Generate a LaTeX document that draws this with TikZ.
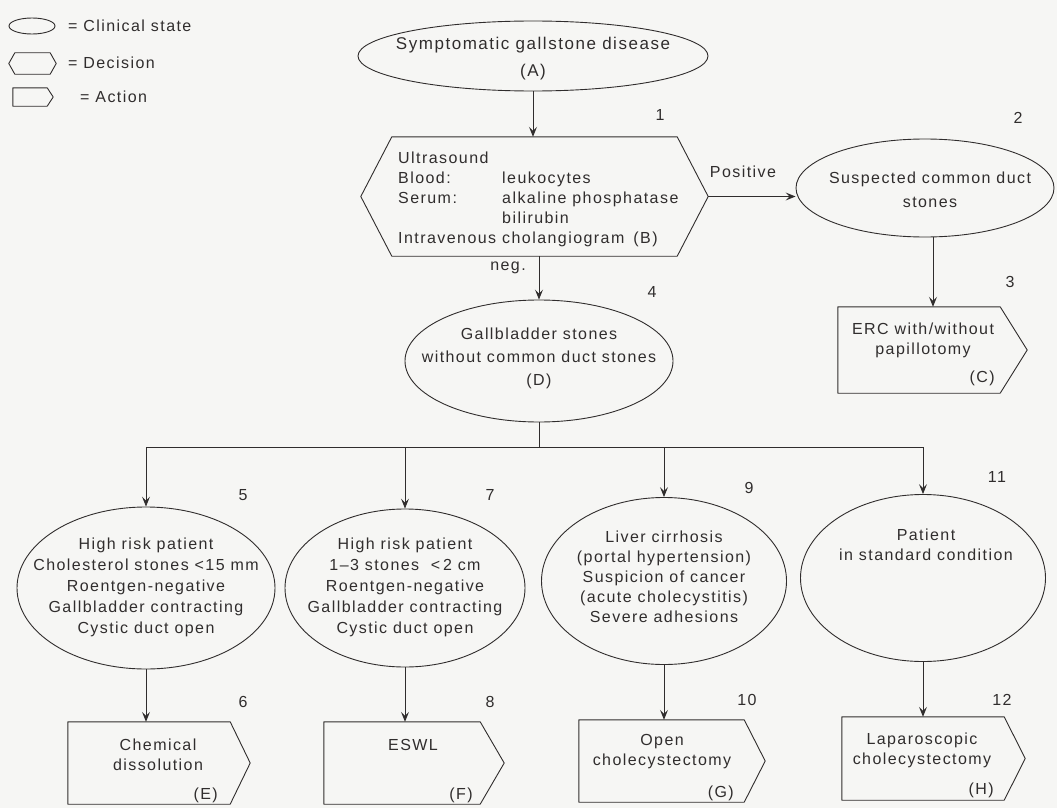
\documentclass[tikz,border=0pt]{standalone}
\usepackage{fontspec}
\setmainfont{Liberation Sans}[LetterSpace=9]
\usetikzlibrary{shapes.geometric,arrows.meta}
\definecolor{ink}{HTML}{302D2D}
\definecolor{paper}{HTML}{F6F6F4}
\newcommand\actoutline[2]{\draw[outline] (#1.north west) -- (#1.north east) -- ([xshift=#2]#1.east) -- (#1.south east) -- (#1.south west) -- cycle;}
\newcommand\hexoutline[2]{\draw[outline] (#1.north west) -- (#1.north east) -- ([xshift=#2]#1.east) -- (#1.south east) -- (#1.south west) -- ([xshift=-#2]#1.west) -- cycle;}
\begin{document}
\begin{tikzpicture}[x=1pt,y=-1pt,
  every node/.style={text=ink},
  txt/.style={font=\fontsize{16}{20}\selectfont, align=center, inner sep=0pt},
  ell/.style={draw=ink, line width=0.9pt, ellipse, inner sep=0pt},
  box/.style={inner sep=0pt, draw=none},
  num/.style={font=\fontsize{16}{18}\selectfont, inner sep=0pt},
  arr/.style={draw=ink, line width=0.9pt, -{Stealth[length=10pt,width=8pt,inset=4pt]}},
  ln/.style={draw=ink, line width=0.9pt},
  outline/.style={draw=ink, line width=0.9pt, line join=round},
]
\fill[paper] (0,0) rectangle (1057,808);
\useasboundingbox (0,0) rectangle (1057,808);

% legend
\node[ell, minimum width=46pt, minimum height=16pt] (lc) at (32,26) {};
\node[txt, anchor=west] (lct) at (68,26) {= Clinical state};
\node[box, minimum width=35pt, minimum height=21pt] (ld) at (32.5,63.5) {};
\hexoutline{ld}{6}
\node[txt, anchor=west] (ldt) at (68,63) {= Decision};
\node[box, minimum width=34pt, minimum height=18pt] (la) at (30,97) {};
\actoutline{la}{6}
\node[txt, anchor=west] (lat) at (80,97) {= Action};

% A
\node[ell, minimum width=350pt, minimum height=70pt] (A) at (533,56) {};
\node[txt, font=\fontsize{17}{27}\selectfont] (At) at (533,59) {Symptomatic gallstone disease\\(A)};

% B
\node[box, minimum width=285pt, minimum height=119pt] (B) at (534.5,196.5) {};
\hexoutline{B}{31}
\node[txt, align=left, anchor=west] (Bt) at (398,199) {Ultrasound\\
\makebox[104pt][l]{Blood:}leukocytes\\
\makebox[104pt][l]{Serum:}alkaline phosphatase\\
\makebox[104pt][l]{}bilirubin\\
\makebox[104pt][l]{Intravenous}cholangiogram\hspace{9pt}(B)};
\coordinate (Btip) at ([xshift=31pt]B.east);

% 2
\node[ell, minimum width=258pt, minimum height=98pt] (S) at (925,188) {};
\node[txt, font=\fontsize{16}{24}\selectfont] (St) at (930,190) {Suspected common duct\\stones};
\node[txt] (pos) at (743,172) {Positive};

% C
\node[box, minimum width=162pt, minimum height=86pt] (C) at (919,350) {};
\actoutline{C}{27}
\node[txt] (Ct) at (923,340) {ERC with/without\\papillotomy};
\node[txt, anchor=east] (Cl) at (995,378) {(C)};

% D
\node[ell, minimum width=268pt, minimum height=122pt] (D) at (539,361) {};
\node[txt, font=\fontsize{16}{23}\selectfont] (Dt) at (539,358) {Gallbladder stones\\without common duct stones\\(D)};
\node[txt] (neg) at (508,268) {neg.};

% row of states
\node[ell, minimum width=258pt, minimum height=162pt] (E5) at (146,588) {};
\node[txt, font=\fontsize{16}{21}\selectfont] (E5t) at (146,587) {High risk patient\\Cholesterol stones <15 mm\\Roentgen-negative\\Gallbladder contracting\\Cystic duct open};
\node[ell, minimum width=240pt, minimum height=158pt] (E7) at (405,588) {};
\node[txt, font=\fontsize{16}{21}\selectfont] (E7t) at (405,587) {High risk patient\\1--3 stones \ <\,2 cm\\Roentgen-negative\\Gallbladder contracting\\Cystic duct open};
\node[ell, minimum width=245pt, minimum height=167pt] (E9) at (664,581) {};
\node[txt, font=\fontsize{16}{20}\selectfont] (E9t) at (664,577) {Liver cirrhosis\\(portal hypertension)\\Suspicion of cancer\\(acute cholecystitis)\\Severe adhesions};
\node[ell, minimum width=245pt, minimum height=167pt] (E11) at (923,578) {};
\node[txt] (E11t) at (926,545) {Patient\\in standard condition};

% actions
\node[box, minimum width=162pt, minimum height=82pt] (AE) at (149,763) {};
\actoutline{AE}{20}
\node[txt] (AEt) at (158,755) {Chemical\\dissolution};
\node[txt, anchor=east] (AEl) at (218,795) {(E)};

\node[box, minimum width=156pt, minimum height=82pt] (AF) at (402,763) {};
\actoutline{AF}{24}
\node[txt] (AFt) at (413,745) {ESWL};
\node[txt, anchor=east] (AFl) at (473,795) {(F)};

\node[box, minimum width=165pt, minimum height=82pt] (AG) at (661.5,761) {};
\actoutline{AG}{21}
\node[txt] (AGt) at (662,752) {Open\\cholecystectomy};
\node[txt, anchor=east] (AGl) at (734,793) {(G)};

\node[box, minimum width=162pt, minimum height=83pt] (AH) at (923,758.5) {};
\actoutline{AH}{21}
\node[txt] (AHt) at (922,750) {Laparoscopic\\cholecystectomy};
\node[txt, anchor=east] (AHl) at (994,790) {(H)};

% numbers
\node[num] (n1) at (660,115) {1};
\node[num] (n2) at (1018,118) {2};
\node[num] (n3) at (1010,282) {3};
\node[num] (n4) at (652,292) {4};
\node[num] (n5) at (243,495) {5};
\node[num] (n6) at (243,702) {6};
\node[num] (n7) at (490,495) {7};
\node[num] (n8) at (490,702) {8};
\node[num] (n9) at (749,488) {9};
\node[num] (n10) at (747,700) {10};
\node[num] (n11) at (997,477) {11};
\node[num] (n12) at (1002,700) {12};

% connectors
\draw[arr] (A.south) -- (A.south |- B.north);
\draw[arr] (Btip) -- (Btip -| S.west);
\draw[arr] ([xshift=8pt]S.south) -- ([xshift=8pt]S.south |- C.north);
\draw[arr] (D.north |- B.south) -- (D.north);
\coordinate (J) at (539,447);
\draw[ln] (D.south) -- (J);
\draw[ln] (E5.north |- J) -- (E11.north |- J);
\draw[arr] (E5.north |- J) -- (E5.north);
\draw[arr] (E7.north |- J) -- (E7.north);
\draw[arr] (E9.north |- J) -- (E9.north);
\draw[arr] (E11.north |- J) -- (E11.north);
\draw[arr] (E5.south) -- (E5.south |- AE.north);
\draw[arr] (E7.south) -- (E7.south |- AF.north);
\draw[arr] (E9.south) -- (E9.south |- AG.north);
\draw[arr] (E11.south) -- (E11.south |- AH.north);
\end{tikzpicture}
\end{document}
